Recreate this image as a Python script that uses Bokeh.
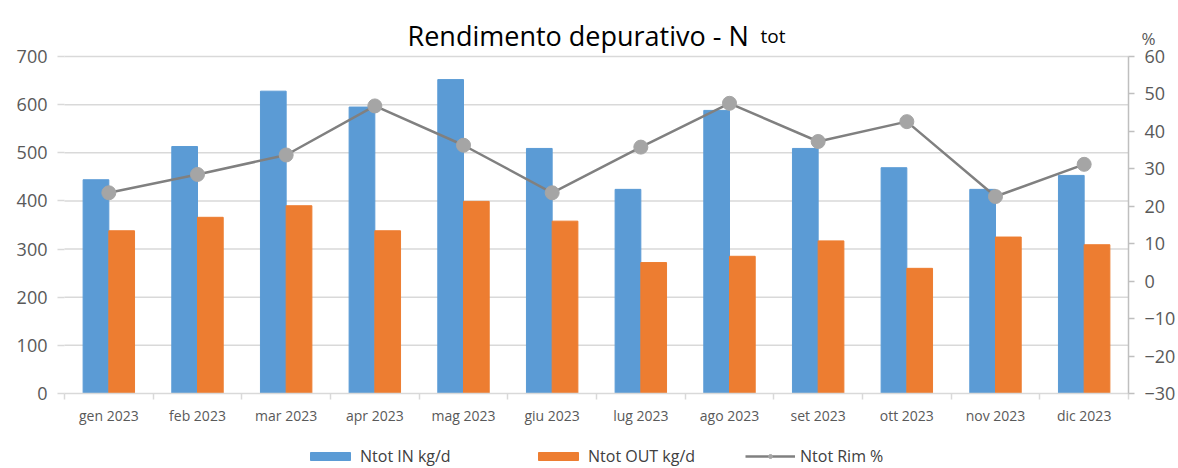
from bokeh.plotting import figure
from bokeh.models import (ColumnDataSource, Range1d, LinearAxis, FixedTicker,
                          Label, Legend, LegendItem)
from bokeh.transform import dodge
from bokeh.embed import file_html
from bokeh.resources import INLINE

months = ["gen 2023", "feb 2023", "mar 2023", "apr 2023", "mag 2023", "giu 2023",
          "lug 2023", "ago 2023", "set 2023", "ott 2023", "nov 2023", "dic 2023"]
ntot_in = [444, 513, 628, 595, 652, 509, 424, 588, 509, 469, 424, 453]
ntot_out = [338, 366, 390, 338, 399, 358, 272, 285, 317, 260, 325, 309]
ntot_rim = [23.6, 28.5, 33.7, 46.8, 36.3, 23.6, 35.8, 47.5, 37.3, 42.6, 22.6, 31.2]
left_ticks = [0, 100, 200, 300, 400, 500, 600, 700]
right_ticks = [-30, -20, -10, 0, 10, 20, 30, 40, 50, 60]
series_names = ["Ntot IN kg/d", "Ntot OUT kg/d", "Ntot Rim %"]
title_main = "Rendimento depurativo - N"
title_sub = "tot"
right_unit = "%"

FONT = "Open Sans"
TXT = "#595959"
W, H = 1178, 468
# plot-area geometry in pixels (frame covers the whole canvas)
PL, PR, PT, PB = 64, 1128, 56, 393

n = len(months)
xc = [i + 0.5 for i in range(n)]  # category centres
src = ColumnDataSource(dict(x=xc, month=months, nin=ntot_in, nout=ntot_out, rim=ntot_rim))

kx = (PR - PL) / n
x0, x1 = -PL / kx, n + (W - PR) / kx
lmin, lmax = left_ticks[0], left_ticks[-1]
ky = (PB - PT) / (lmax - lmin)
y0, y1 = lmin - (H - PB) / ky, lmax + PT / ky
rmin, rmax = right_ticks[0], right_ticks[-1]
kr = (PB - PT) / (rmax - rmin)
r0, r1 = rmin - (H - PB) / kr, rmax + PT / kr

p = figure(x_range=Range1d(x0, x1), y_range=Range1d(y0, y1), width=W, height=H,
           output_backend="svg", toolbar_location=None, title=None,
           x_axis_location=None, y_axis_location=None,
           min_border_left=0, min_border_right=0, min_border_top=0, min_border_bottom=0)
p.min_border = 0
p.outline_line_color = None
p.background_fill_color = "white"
p.border_fill_color = "white"
p.xgrid.visible = False
p.ygrid.visible = False
p.extra_y_ranges = {"pct": Range1d(r0, r1)}

# horizontal gridlines at the left-axis ticks
p.segment(x0=[0] * (len(left_ticks) - 1), x1=[n] * (len(left_ticks) - 1),
          y0=left_ticks[1:], y1=left_ticks[1:], line_color="#d9d9d9", line_width=1.5)

# left axis
ly = LinearAxis(ticker=FixedTicker(ticks=left_ticks), fixed_location=0, bounds=(lmin, lmax))
ly.axis_line_color = None
ly.major_tick_line_color = "#d9d9d9"
ly.major_tick_line_width = 1.5
ly.major_tick_out = 7
ly.major_tick_in = 0
ly.minor_tick_line_color = None
ly.major_label_text_font = FONT
ly.major_label_text_font_size = "18px"
ly.major_label_text_color = TXT
ly.major_label_standoff = 10
p.add_layout(ly, "left")

# right axis
ry = LinearAxis(y_range_name="pct", ticker=FixedTicker(ticks=right_ticks), fixed_location=n,
                bounds=(rmin, rmax))
ry.axis_line_color = "#bfbfbf"
ry.axis_line_width = 1.5
ry.major_tick_line_color = "#bfbfbf"
ry.major_tick_line_width = 1.5
ry.major_tick_out = 6
ry.major_tick_in = 0
ry.minor_tick_line_color = None
ry.major_label_text_font = FONT
ry.major_label_text_font_size = "18px"
ry.major_label_text_color = TXT
ry.major_label_standoff = 10
p.add_layout(ry, "right")

# bottom axis: labels at centres, tick marks at category boundaries
bx = LinearAxis(ticker=FixedTicker(ticks=xc, minor_ticks=list(range(n + 1))),
                fixed_location=0, bounds=(0, n))
bx.major_label_overrides = {x: m for x, m in zip(xc, months)}
bx.axis_line_color = "#d9d9d9"
bx.axis_line_width = 1.5
bx.major_tick_line_color = None
bx.minor_tick_line_color = "#d9d9d9"
bx.minor_tick_line_width = 1.5
bx.minor_tick_out = 6
bx.minor_tick_in = 0
bx.major_tick_out = 6
bx.major_label_text_font = FONT
bx.major_label_text_font_size = "14px"
bx.major_label_text_color = TXT
bx.major_label_standoff = 6
p.add_layout(bx, "below")

b1 = p.vbar(x=dodge("x", -0.145), top="nin", width=0.29, source=src,
            fill_color="#5B9BD5", line_color="#5B9BD5")
b2 = p.vbar(x=dodge("x", 0.145), top="nout", width=0.29, source=src,
            fill_color="#ED7D31", line_color="#ED7D31")
ln = p.line(x="x", y="rim", source=src, y_range_name="pct", line_color="#808080", line_width=2.5)
mk = p.scatter(x="x", y="rim", source=src, y_range_name="pct", size=14,
               fill_color="#A5A5A5", line_color="#A5A5A5")

leg_renderers = [[b1], [b2], [ln, mk]]
leg_x = [305, 533, 745]
for name, rends, lx in zip(series_names, leg_renderers, leg_x):
    lg = Legend(items=[LegendItem(label=name, renderers=rends)],
                orientation="horizontal", location=(lx, 1),
                glyph_width=50, glyph_height=10, label_standoff=5, spacing=0,
                padding=0, margin=0, border_line_color=None, background_fill_alpha=0,
                label_text_font=FONT, label_text_font_size="16px", label_text_color="#404040")
    p.add_layout(lg, "center")

t1 = Label(x=407, y=H - 35, x_units="screen", y_units="screen", text=title_main,
           text_font=FONT, text_font_size="27px", text_color="#000000", text_baseline="alphabetic")
t2 = Label(x=760, y=H - 35, x_units="screen", y_units="screen", text=title_sub,
           text_font=FONT, text_font_size="19px", text_color="#000000", text_baseline="alphabetic")
t3 = Label(x=1141, y=H - 38, x_units="screen", y_units="screen", text=right_unit,
           text_font=FONT, text_font_size="17px", text_color=TXT, text_baseline="alphabetic")
for t in (t1, t2, t3):
    p.add_layout(t)

open("out.html", "w").write(file_html(p, INLINE))
